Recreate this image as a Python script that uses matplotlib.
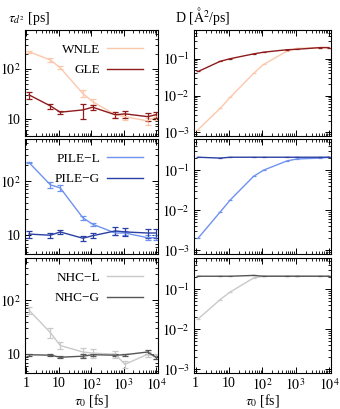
import matplotlib
matplotlib.use("Agg")
import matplotlib.pyplot as plt
import numpy as np
from matplotlib.ticker import FixedLocator, FuncFormatter, LogLocator, NullFormatter

plt.rcParams['font.family'] = ['Liberation Serif', 'DejaVu Serif']
plt.rcParams['mathtext.fontset'] = 'stix'

tau0 = [1.2, 5.5, 11, 55, 110, 550, 1100, 5500, 10000]

# tau_d2 [ps]
wnle_t = [220, 150, 105, 32, 22, 12, 11, 9, 11]
wnle_te = [10, 15, 8, 5, 3, 1.5, 1.5, 1.5, 1.5]
gle_t = [30, 18, 13.5, 15, 17, 12, 12.5, 11, 12]
gle_te = [5, 2, 1, 5, 2, 1.5, 2, 2, 1.5]
pilel_t = [220, 85, 75, 21, 16, 11, 11, 9, 9]
pilel_te = [8, 10, 10, 2, 1, 1, 1, 1, 1]
pileg_t = [10.5, 10, 11.5, 8.8, 9.8, 12, 11.5, 11, 11]
pileg_te = [1.5, 1, 1, 1, 1, 2, 2, 2, 2]
nhcl_t = [65, 25, 14.5, 11, 10.5, 10, 6.5, 10, 9]
nhcl_te = [10, 5, 2, 2, 2, 1.5, 1, 1, 1]
nhcg_t = [9.8, 9.6, 8.8, 9.2, 9.8, 9.6, 9.8, 11, 8.8]
nhcg_te = [0.5, 0.3, 0.3, 0.8, 0.5, 0.5, 0.5, 1, 0.5]

# D [A^2/ps]
wnle_d = [0.0012, 0.0045, 0.009, 0.04, 0.07, 0.16, 0.19, 0.2, 0.2]
gle_d = [0.045, 0.085, 0.1, 0.135, 0.15, 0.175, 0.18, 0.2, 0.2]
pilel_d = [0.002, 0.009, 0.018, 0.07, 0.1, 0.17, 0.19, 0.2, 0.21]
pileg_d = [0.21, 0.2, 0.21, 0.21, 0.21, 0.21, 0.21, 0.21, 0.21]
nhcl_d = [0.018, 0.055, 0.085, 0.19, 0.21, 0.21, 0.21, 0.21, 0.21]
nhcg_d = [0.21, 0.21, 0.21, 0.22, 0.21, 0.21, 0.21, 0.21, 0.21]

c_wnle = '#fcc8ac'
c_gle = '#8e1c1c'
c_pilel = '#6f92ee'
c_pileg = '#2b40a3'
c_nhcl = '#c9c9c9'
c_nhcg = '#555555'

rows = [
    [("WNLE", wnle_t, wnle_te, wnle_d, c_wnle), ("GLE", gle_t, gle_te, gle_d, c_gle)],
    [("PILE\u2212L", pilel_t, pilel_te, pilel_d, c_pilel), ("PILE\u2212G", pileg_t, pileg_te, pileg_d, c_pileg)],
    [("NHC\u2212L", nhcl_t, nhcl_te, nhcl_d, c_nhcl), ("NHC\u2212G", nhcg_t, nhcg_te, nhcg_d, c_nhcg)],
]

fig = plt.figure(figsize=(3.40, 4.09), dpi=100)
fs = 10
lfs = 9.5
L0, L1 = 25/340, 158/340
R0, R1 = 194/340, 331/340
# panel pixel extents (top, bottom)
pan = [(30, 136), (139, 254), (258, 373)]

def style(ax):
    ax.set_xscale('log')
    ax.set_yscale('log')
    ax.set_xlim(0.9, 11500)
    ax.tick_params(which='both', direction='in', top=True, right=True, labelsize=fs, pad=3)
    ax.tick_params(which='major', length=4, width=0.7)
    ax.tick_params(which='minor', length=2, width=0.6)
    ax.xaxis.set_major_locator(FixedLocator([1, 10, 100, 1000, 10000]))
    ax.xaxis.set_minor_locator(LogLocator(base=10, subs=np.arange(2, 10), numticks=20))
    ax.yaxis.set_minor_locator(LogLocator(base=10, subs=np.arange(2, 10), numticks=20))
    ax.xaxis.set_minor_formatter(NullFormatter())
    ax.yaxis.set_minor_formatter(NullFormatter())
    for s in ax.spines.values():
        s.set_linewidth(0.8)

def xfmt(v, p):
    e = int(round(np.log10(v)))
    if e == 0:
        return "1"
    if e == 1:
        return "10"
    return r"$10^{%d}$" % e

def lyfmt(v, p):
    e = int(round(np.log10(v)))
    if e == 1:
        return "10"
    return r"$10^{%d}$" % e

def ryfmt(v, p):
    e = int(round(np.log10(v)))
    return r"$10^{%d}$" % e

for i, row in enumerate(rows):
    pt, pb = pan[i]
    y0 = 1 - pb/409
    h = (pb - pt)/409
    axl = fig.add_axes([L0, y0, L1-L0, h])
    axr = fig.add_axes([R0, y0, R1-R0, h])
    style(axl)
    style(axr)
    axl.set_ylim(4.5, 600)
    axr.set_ylim(8e-4, 0.6)
    axl.yaxis.set_major_locator(FixedLocator([10, 100]))
    axl.yaxis.set_major_formatter(FuncFormatter(lyfmt))
    axr.yaxis.set_major_locator(FixedLocator([1e-3, 1e-2, 1e-1]))
    axr.yaxis.set_major_formatter(FuncFormatter(ryfmt))
    for name, t, te, d, c in row:
        axl.errorbar(tau0, t, yerr=te, color=c, lw=1.0, elinewidth=0.9,
                     capsize=2, capthick=0.9, label=name)
        axr.plot(tau0, d, color=c, lw=1.0, marker='_', ms=3, mew=0.9)
    handles = [plt.Line2D([], [], color=r[4], lw=1.0) for r in row]
    ph = pb - pt
    axl.legend(handles, [r[0] for r in row], loc='upper right', frameon=False,
               markerfirst=False, fontsize=lfs, handlelength=2.7, labelspacing=0.65,
               borderaxespad=0, handletextpad=0.55,
               bbox_to_anchor=(0.925, 1 - 8/ph))
    if i < 2:
        axl.set_xticklabels([])
        axr.set_xticklabels([])
    else:
        axl.xaxis.set_major_formatter(FuncFormatter(xfmt))
        axr.xaxis.set_major_formatter(FuncFormatter(xfmt))
        axl.set_xlabel(r"$\tau_0$ [fs]", fontsize=fs, labelpad=-1)
        axr.set_xlabel(r"$\tau_0$ [fs]", fontsize=fs, labelpad=-1)
    if i == 0:
        axl.set_title(r"$\tau_{d^2}$ [ps]", fontsize=fs, loc='left', x=-0.13, pad=6)
        axr.set_title(r"D [$\mathrm{\AA}^2$/ps]", fontsize=fs, loc='left', x=-0.14, pad=6)

fig.savefig("out.png", dpi=100)
